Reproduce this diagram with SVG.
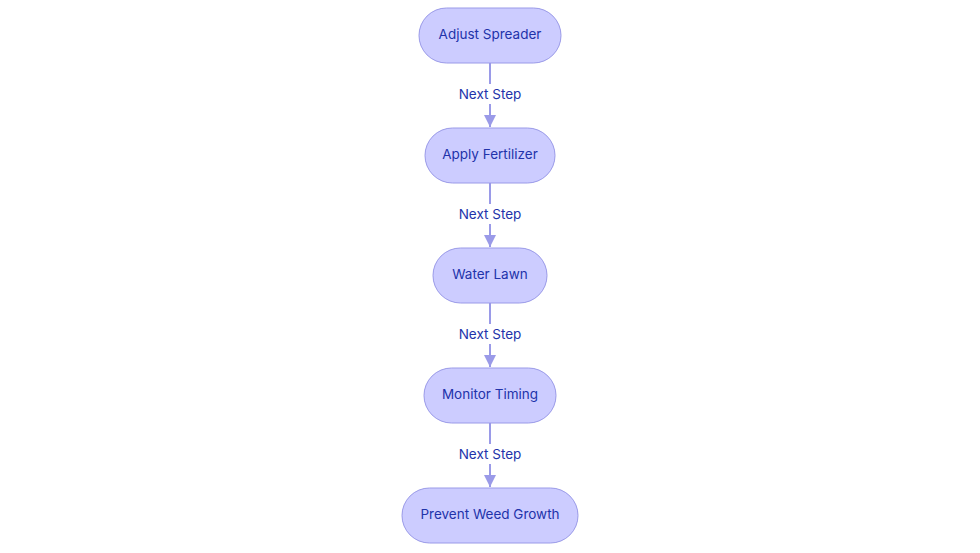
<svg xmlns="http://www.w3.org/2000/svg" width="980" height="553" viewBox="0 0 980 553">
<style>
.node rect{fill:#ccccff;stroke:#9a9ae8;stroke-width:1}
.node text,.lbl text{font-family:Inter,"Noto Sans",sans-serif;font-size:13.5px;fill:#2233aa;text-anchor:middle;dominant-baseline:central}
.edge{stroke:#9a9ae8;stroke-width:2;fill:none}
.lbl rect{fill:#ffffff}
</style>
<defs>
<marker id="arr" viewBox="0 0 10 10" refX="10" refY="5" markerWidth="6" markerHeight="6" orient="auto" markerUnits="strokeWidth">
<path d="M0,0 L10,5 L0,10 z" fill="#9a9ae8"/>
</marker>
</defs>
<rect width="980" height="553" fill="#ffffff"/>
<g id="connectors">
<line class="edge" x1="490" y1="63" x2="490" y2="127" marker-end="url(#arr)"/>
<line class="edge" x1="490" y1="183" x2="490" y2="247" marker-end="url(#arr)"/>
<line class="edge" x1="490" y1="303" x2="490" y2="367" marker-end="url(#arr)"/>
<line class="edge" x1="490" y1="423" x2="490" y2="487" marker-end="url(#arr)"/>
<g class="lbl"><rect x="455" y="84" width="70" height="20"/><text x="490" y="94">Next Step</text></g>
<g class="lbl"><rect x="455" y="204" width="70" height="20"/><text x="490" y="214">Next Step</text></g>
<g class="lbl"><rect x="455" y="324" width="70" height="20"/><text x="490" y="334">Next Step</text></g>
<g class="lbl"><rect x="455" y="444" width="70" height="20"/><text x="490" y="454">Next Step</text></g>
</g>
<g id="n1" class="node"><rect x="419" y="8" width="142" height="55" rx="27.5"/><text x="490" y="34">Adjust Spreader</text></g>
<g id="n2" class="node"><rect x="425" y="128" width="130" height="55" rx="27.5"/><text x="490" y="154">Apply Fertilizer</text></g>
<g id="n3" class="node"><rect x="433" y="248" width="114" height="55" rx="27.5"/><text x="490" y="274">Water Lawn</text></g>
<g id="n4" class="node"><rect x="424" y="368" width="132" height="55" rx="27.5"/><text x="490" y="394">Monitor Timing</text></g>
<g id="n5" class="node"><rect x="402" y="488" width="176" height="55" rx="27.5"/><text x="490" y="514">Prevent Weed Growth</text></g>
</svg>
